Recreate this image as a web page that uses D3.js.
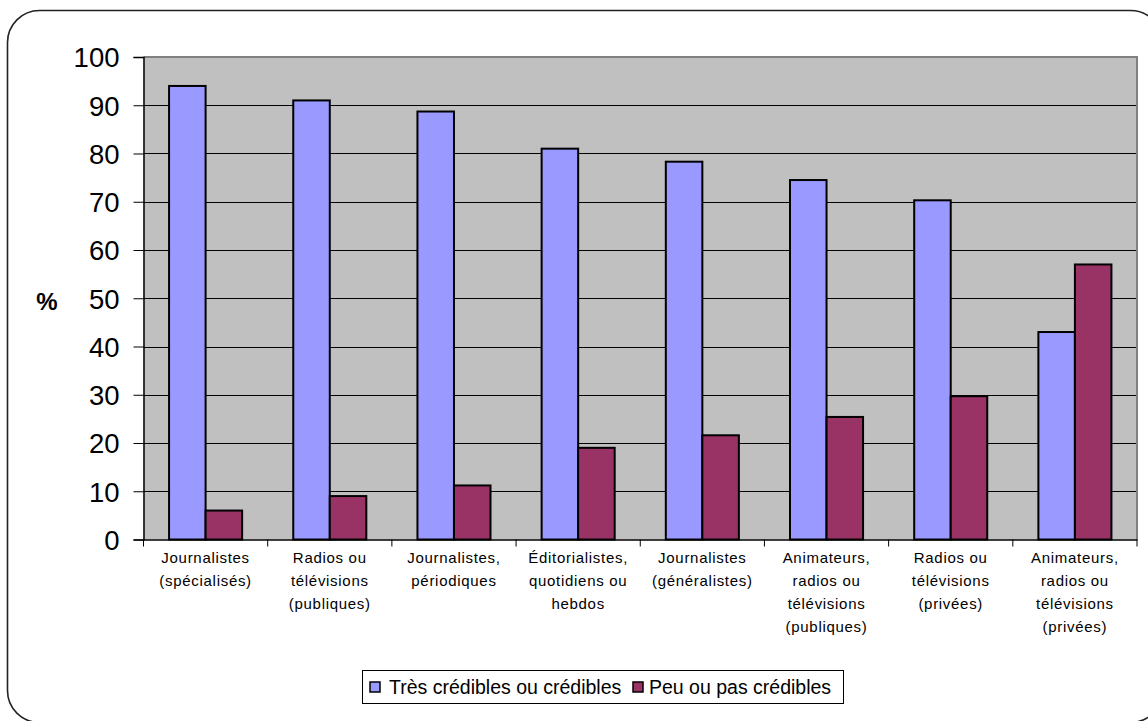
<!DOCTYPE html>
<html>
<head>
<meta charset="utf-8">
<script src="https://cdn.jsdelivr.net/npm/d3@7"></script>
<style>
  html, body { margin: 0; padding: 0; background: #fff; }
  svg { display: block; }
</style>
</head>
<body>
<svg id="chart" width="1148" height="721"></svg>
<script>
// Perception of credibility by source type (percent)
const categories = [
  ["Journalistes", "(spécialisés)"],
  ["Radios ou", "télévisions", "(publiques)"],
  ["Journalistes,", "périodiques"],
  ["Éditorialistes,", "quotidiens ou", "hebdos"],
  ["Journalistes", "(généralistes)"],
  ["Animateurs,", "radios ou", "télévisions", "(publiques)"],
  ["Radios ou", "télévisions", "(privées)"],
  ["Animateurs,", "radios ou", "télévisions", "(privées)"]
];
const seriesNames = ["Très crédibles ou crédibles", "Peu ou pas crédibles"];
const credible = [94, 91, 88.7, 81, 78.3, 74.5, 70.3, 43];
const notCredible = [6, 9, 11.2, 19, 21.6, 25.4, 29.7, 57];
const yTicks = [0, 10, 20, 30, 40, 50, 60, 70, 80, 90, 100];
const colors = ["#9999ff", "#993366"];

const svg = d3.select("#chart");
const font = "'Liberation Sans', Arial, sans-serif";

// rounded outer frame
svg.append("rect")
  .attr("x", 7.5).attr("y", 10.5)
  .attr("width", 1155).attr("height", 712)
  .attr("rx", 32).attr("ry", 32)
  .attr("fill", "#fff").attr("stroke", "#222").attr("stroke-width", 1.6);

const plot = { left: 143.5, top: 57, right: 1137, bottom: 539.5 };

const x = d3.scaleBand()
  .domain(d3.range(categories.length))
  .range([plot.left, plot.right])
  .paddingInner(0).paddingOuter(0);

const inner = d3.scaleBand()
  .domain([0, 1])
  .range([0, x.bandwidth()])
  .paddingOuter(0.7).paddingInner(0);

const y = d3.scaleLinear().domain([0, 100]).range([plot.bottom, plot.top]);

// plot background
svg.append("rect")
  .attr("x", plot.left).attr("y", plot.top)
  .attr("width", plot.right - plot.left).attr("height", plot.bottom - plot.top)
  .attr("fill", "#c0c0c0");

// gridlines
svg.append("g").selectAll("line")
  .data(yTicks.filter(d => d > 0 && d < 100))
  .join("line")
  .attr("x1", plot.left).attr("x2", plot.right)
  .attr("y1", d => Math.round(y(d)) + 0.5).attr("y2", d => Math.round(y(d)) + 0.5)
  .attr("stroke", "#000").attr("stroke-width", 1);

// plot border (top/right grey)
svg.append("path")
  .attr("d", `M${plot.left},${plot.top}H${plot.right}V${plot.bottom}`)
  .attr("fill", "none").attr("stroke", "#808080").attr("stroke-width", 2);

// bars
const seriesData = [credible, notCredible];
seriesData.forEach((vals, s) => {
  svg.append("g").selectAll("rect")
    .data(vals)
    .join("rect")
    .attr("x", (d, i) => x(i) + inner(s))
    .attr("y", d => y(d))
    .attr("width", inner.bandwidth())
    .attr("height", d => y(0) - y(d))
    .attr("fill", colors[s])
    .attr("stroke", "#000").attr("stroke-width", 2);
});

// y axis
const yAxis = d3.axisLeft(y).tickValues(yTicks).tickSize(10).tickPadding(14);
const gy = svg.append("g").attr("transform", `translate(${plot.left},0)`).call(yAxis);
gy.select(".domain").attr("stroke", "#000").attr("stroke-width", 1.5);
gy.selectAll(".tick line").attr("stroke", "#000");
gy.selectAll(".tick text")
  .attr("font-family", font).attr("font-size", 27.5).attr("fill", "#000")
  .attr("dy", "0.36em");

// x axis
const xAxis = d3.axisBottom(x).tickValues([]).tickSizeOuter(0);
const gx = svg.append("g").attr("transform", `translate(0,${plot.bottom})`).call(xAxis);
gx.select(".domain").attr("stroke", "#000").attr("stroke-width", 1.5);
svg.append("g").selectAll("line")
  .data(d3.range(categories.length + 1))
  .join("line")
  .attr("x1", i => plot.left + i * x.step()).attr("x2", i => plot.left + i * x.step())
  .attr("y1", plot.bottom).attr("y2", plot.bottom + 7)
  .attr("stroke", "#000");

// category labels
const lab = svg.append("g").selectAll("text")
  .data(categories)
  .join("text")
  .attr("x", (d, i) => x(i) + x.bandwidth() / 2)
  .attr("y", 563)
  .attr("text-anchor", "middle")
  .attr("font-family", font).attr("font-size", 15)
  .attr("letter-spacing", 0.7)
  .attr("fill", "#000");
lab.selectAll("tspan")
  .data(d => d)
  .join("tspan")
  .attr("x", function () { return this.parentNode.getAttribute("x"); })
  .attr("dy", (d, j) => j === 0 ? 0 : 23)
  .text(d => d);

// y axis title
svg.append("text")
  .attr("x", 47).attr("y", 301).attr("dy", "0.36em")
  .attr("text-anchor", "middle")
  .attr("font-family", font).attr("font-size", 24).attr("font-weight", "bold")
  .text("%");

// legend
const lg = svg.append("g");
lg.append("rect")
  .attr("x", 362.5).attr("y", 670.5).attr("width", 481).attr("height", 33)
  .attr("fill", "#fff").attr("stroke", "#000").attr("stroke-width", 1);
const items = [
  { x: 370, tx: 389 },
  { x: 633, tx: 649 }
];
seriesNames.forEach((name, s) => {
  lg.append("rect")
    .attr("x", items[s].x).attr("y", 682).attr("width", 10).attr("height", 10)
    .attr("fill", colors[s]).attr("stroke", "#000").attr("stroke-width", 1.5);
  lg.append("text")
    .attr("x", items[s].tx).attr("y", 687).attr("dy", "0.36em")
    .attr("font-family", font).attr("font-size", 19.5)
    .text(name);
});
</script>
</body>
</html>
